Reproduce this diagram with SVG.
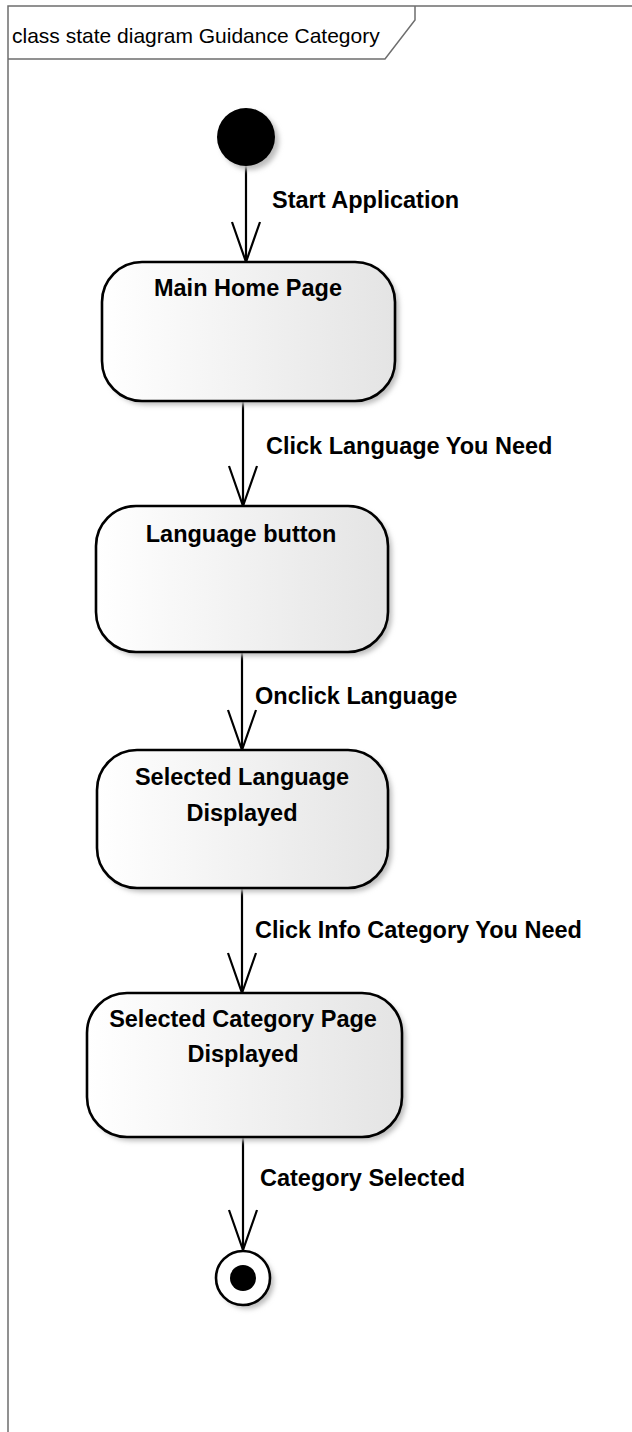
<svg xmlns="http://www.w3.org/2000/svg" width="632" height="1432" viewBox="0 0 632 1432">
<style>
.frame{fill:none;stroke:#6e6e6e;stroke-width:1.5}
.title{font-family:"Liberation Sans",Arial,sans-serif;font-size:21px;fill:#000}
.state{fill:url(#g);stroke:#000;stroke-width:2.6}
.shadow{fill:#bdbdbd;filter:url(#blur)}
.lbl{font-family:"Liberation Sans",Arial,sans-serif;font-size:23.5px;font-weight:bold;fill:#000}
.ctr{text-anchor:middle}
.conn{stroke:#000;stroke-width:2.2;fill:none;marker-end:url(#arr)}
</style>
<defs>
<linearGradient id="g" x1="0" y1="0" x2="1" y2="0">
<stop offset="0" stop-color="#ffffff"/>
<stop offset="1" stop-color="#e4e4e4"/>
</linearGradient>
<filter id="blur" x="-20%" y="-20%" width="140%" height="140%"><feGaussianBlur stdDeviation="2.5"/></filter>
<marker id="arr" markerUnits="userSpaceOnUse" markerWidth="60" markerHeight="60" refX="0" refY="0" orient="auto" overflow="visible">
<path d="M-40,-14 L0,0 L-40,14" fill="none" stroke="#000" stroke-width="2.2"/>
</marker>
</defs>
<rect width="632" height="1432" fill="#fff"/>
<g id="frame">
<path class="frame" d="M8,1432 L8,6 L632,6"/>
<path class="frame" d="M8,59 L385,59 L415,20 L415,6"/>
<text class="title" x="12" y="43">class state diagram Guidance Category</text>
</g>
<g id="connectors">
<line class="conn" x1="246" y1="166" x2="246" y2="262"/>
<line class="conn" x1="243" y1="401" x2="243" y2="506"/>
<line class="conn" x1="242" y1="652" x2="242" y2="750"/>
<line class="conn" x1="242" y1="888" x2="242" y2="993"/>
<line class="conn" x1="243" y1="1137" x2="243" y2="1250"/>
<text class="lbl" x="272" y="208">Start Application</text>
<text class="lbl" x="266" y="454">Click Language You Need</text>
<text class="lbl" x="255" y="704">Onclick Language</text>
<text class="lbl" x="255" y="938">Click Info Category You Need</text>
<text class="lbl" x="260" y="1186">Category Selected</text>
</g>
<g id="initial">
<circle class="shadow" cx="250" cy="141" r="29"/>
<circle cx="246" cy="137" r="29" fill="#000"/>
</g>
<g id="main-home-page">
<rect class="shadow" x="106" y="266" width="293" height="139" rx="40"/>
<rect class="state" x="102" y="262" width="293" height="139" rx="40"/>
<text class="lbl ctr" x="248" y="296">Main Home Page</text>
</g>
<g id="language-button">
<rect class="shadow" x="100" y="510" width="292" height="146" rx="40"/>
<rect class="state" x="96" y="506" width="292" height="146" rx="40"/>
<text class="lbl ctr" x="241" y="542">Language button</text>
</g>
<g id="selected-language">
<rect class="shadow" x="101" y="754" width="291" height="138" rx="40"/>
<rect class="state" x="97" y="750" width="291" height="138" rx="40"/>
<text class="lbl ctr" x="242" y="785">Selected Language</text>
<text class="lbl ctr" x="242" y="821">Displayed</text>
</g>
<g id="selected-category">
<rect class="shadow" x="91" y="997" width="315" height="144" rx="40"/>
<rect class="state" x="87" y="993" width="315" height="144" rx="40"/>
<text class="lbl ctr" x="243" y="1027">Selected Category Page</text>
<text class="lbl ctr" x="243" y="1062">Displayed</text>
</g>
<g id="final">
<circle class="shadow" cx="247" cy="1282" r="27"/>
<circle cx="243" cy="1278" r="27" fill="#fff" stroke="#000" stroke-width="2.6"/>
<circle cx="243" cy="1278" r="13" fill="#000"/>
</g>
</svg>
